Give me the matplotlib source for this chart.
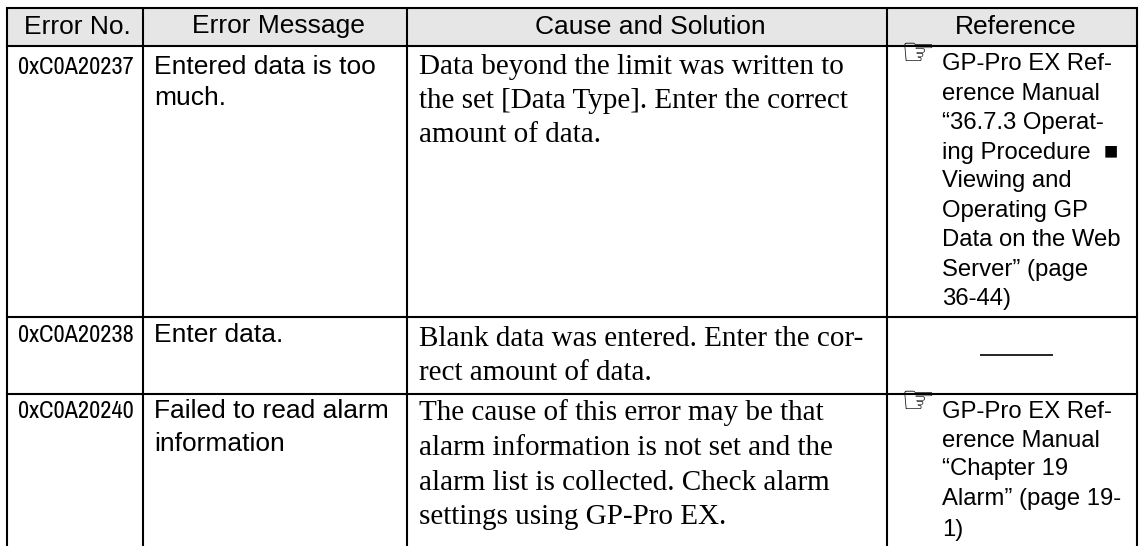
import matplotlib
matplotlib.use('Agg')
import matplotlib.pyplot as plt
from matplotlib.patches import Rectangle

headers = ['Error No.', 'Error Message', 'Cause and Solution', 'Reference']
error_numbers = ['0xC0A20237', '0xC0A20238', '0xC0A20240']
error_messages = [
    ['Entered data is too', 'much.'],
    ['Enter data.'],
    ['Failed to read alarm', 'information'],
]
causes = [
    ['Data beyond the limit was written to', 'the set [Data Type]. Enter the correct', 'amount of data.'],
    ['Blank data was entered. Enter the cor-', 'rect amount of data.'],
    ['The cause of this error may be that', 'alarm information is not set and the',
     'alarm list is collected. Check alarm', 'settings using GP-Pro EX.'],
]
references = [
    ['GP-Pro EX Ref-', 'erence Manual', '\u201c36.7.3 Operat-', 'ing Procedure  \u25a0', 'Viewing and',
     'Operating GP', 'Data on the Web', 'Server\u201d (page', '36-44)'],
    [],
    ['GP-Pro EX Ref-', 'erence Manual', '\u201cChapter 19', 'Alarm\u201d (page 19-', '1)'],
]

# layout in pixels of the 1141x546 picture
col_x = [7, 143, 406.5, 887, 1137]
row_y = [8, 46, 317, 394]
bottom = 546
header_x = [77, 278, 650, 1016]
header_base = 33.5
text_x = [18, 154.5, 419, 942]
no_base = [73.5, 342.5, 418.5]
msg_base = [[74, 105], [342.5], [418.5, 451]]
cause_base = [[74, 108.5, 142.5], [345.5, 380], [420.5, 455, 490, 524.5]]
ref_base = [[70.5, 99.5, 129.5, 158.5, 187.5, 217, 246.5, 276, 304.5], [], [418, 447, 475.5, 505.5, 536]]

fig = plt.figure(figsize=(11.41, 5.46), dpi=100)
ax = fig.add_axes([0, 0, 1, 1])
ax.set_xlim(0, 1141)
ax.set_ylim(546, 0)
ax.axis('off')

# grey header band and the grid
ax.add_patch(Rectangle((col_x[0], row_y[0]), col_x[-1] - col_x[0], row_y[1] - row_y[0], color='#e6e6e6', lw=0))
for x in col_x:
    ax.plot([x, x], [row_y[0], bottom], color='black', lw=1.5, solid_capstyle='butt')
for y in row_y:
    ax.plot([col_x[0], col_x[-1]], [y, y], color='black', lw=1.5, solid_capstyle='projecting')

head = dict(family='Liberation Sans', fontsize=19, color='black', va='baseline')
serif = dict(family='Liberation Serif', fontsize=21, color='black', va='baseline')
narrow = dict(family=['Archivo Narrow', 'Liberation Sans'], fontsize=17.5, color='black', va='baseline')
ref = dict(family=['Liberation Sans', 'DejaVu Sans'], fontsize=17.2, color='black', va='baseline')

for x, label in zip(header_x, headers):
    ax.text(x, header_base, label, ha='center', **head)

for i in range(3):
    ax.text(text_x[0], no_base[i], error_numbers[i], **narrow)
    for line, y in zip(error_messages[i], msg_base[i]):
        ax.text(text_x[1], y, line, **head)
    for line, y in zip(causes[i], cause_base[i]):
        ax.text(text_x[2], y, line, **serif)
    for line, y in zip(references[i], ref_base[i]):
        ax.text(text_x[3], y, line, **ref)

# pointing hand at the top of the reference cells, and the dash for the empty one
for y in [row_y[1], row_y[3]]:
    ax.text(918, y + 8, '\u261e', family='DejaVu Sans', fontweight='bold', fontsize=28, ha='center', va='center', color='#111111')
ax.plot([980, 1053], [354.5, 354.5], color='black', lw=1.2, solid_capstyle='butt')

fig.savefig('out.png', dpi=100)
